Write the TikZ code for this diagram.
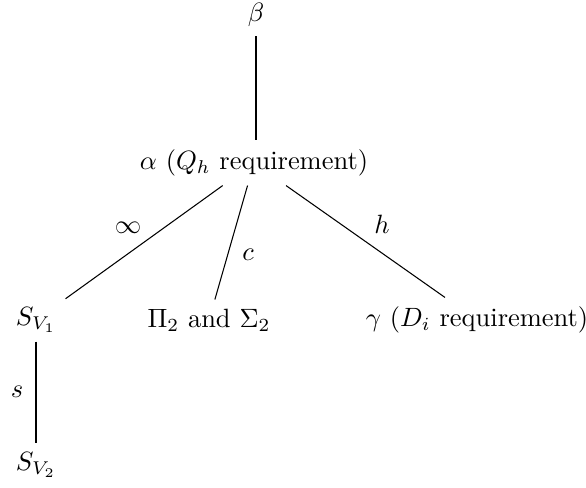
\documentclass[tikz,border=0pt]{standalone}
\begin{document}
\begin{tikzpicture}[x=0.378pt,y=-0.378pt,
  tnode/.style={inner sep=0.3333em},
  lbl/.style={inner sep=1pt},
  conn/.style={draw=black, line width=0.4pt}]
\useasboundingbox (0,0) rectangle (586,487);
\node[tnode] (beta) at (256,15) {$\beta$};
\node[tnode] (alpha) at (254,163) {$\alpha$ ($Q_h$ requirement)};
\node[tnode] (sv1) at (36,320) {$S_{V_1}$};
\node[tnode] (pisig) at (209,320) {$\Pi_2$ and $\Sigma_2$};
\node[tnode] (gamma) at (477,320) {$\gamma$ ($D_i$ requirement)};
\node[tnode] (sv2) at (36,465) {$S_{V_2}$};
\draw[conn] (beta) -- (beta|-alpha.north);
\draw[conn] (alpha) -- (sv1);
\draw[conn] (alpha) -- (pisig);
\draw[conn] (alpha) -- (gamma);
\draw[conn] (sv1) -- (sv2);
\node[lbl] (linf) at (128,228) {$\infty$};
\node[lbl] (lc) at (248,255) {$c$};
\node[lbl] (lh) at (382,224) {$h$};
\node[lbl] (ls) at (17,392) {$s$};
\end{tikzpicture}
\end{document}
